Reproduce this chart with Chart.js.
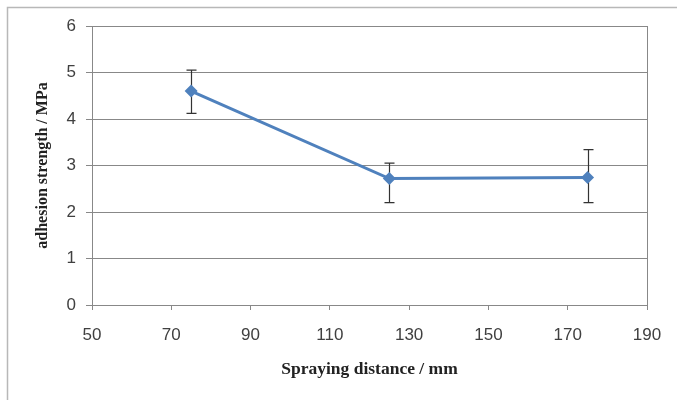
<!DOCTYPE html>
<html>
<head>
<meta charset="utf-8">
<script src="https://cdn.jsdelivr.net/npm/chart.js@4/dist/chart.umd.min.js"></script>
<style>
  body { margin: 0; background: #fff; }
  canvas { display: block; }
</style>
</head>
<body>
<canvas id="myChart" width="677" height="400"></canvas>
<script>
// spraying distance (mm) and adhesion strength (MPa)
let distances = [75, 125, 175];
let strength = [4.6, 2.72, 2.74];
let errLow = [4.12, 2.2, 2.2];
let errHigh = [5.05, 3.05, 3.34];

let xTicks = [50, 70, 90, 110, 130, 150, 170, 190];
let yTicks = [0, 1, 2, 3, 4, 5, 6];

let points = distances.map(function (d, i) {
    return {x: d, y: strength[i]};
});

let gridGray = "#888888";

// thin frame round the chart (only left and top show in the picture)
let framePlugin = {
    id: "frame",
    beforeDraw: function (chart) {
        let ctx = chart.ctx;
        ctx.save();
        ctx.fillStyle = "#fff";
        ctx.fillRect(0, 0, chart.width, chart.height);
        ctx.strokeStyle = "#b8b8b8";
        ctx.lineWidth = 1.5;
        ctx.beginPath();
        ctx.moveTo(7.5, chart.height);
        ctx.lineTo(7.5, 7.5);
        ctx.lineTo(chart.width, 7.5);
        ctx.stroke();
        ctx.restore();
    }
};

// error bars, drawn under the line and markers
let errorBars = {
    id: "errorBars",
    beforeDatasetsDraw: function (chart) {
        let ctx = chart.ctx;
        let xs = chart.scales.x;
        let ys = chart.scales.y;
        ctx.save();
        ctx.strokeStyle = "#333333";
        ctx.lineWidth = 1.2;
        for (let i = 0; i < distances.length; i++) {
            let px = Math.round(xs.getPixelForValue(distances[i])) + 0.5;
            let top = ys.getPixelForValue(errHigh[i]);
            let bot = ys.getPixelForValue(errLow[i]);
            ctx.beginPath();
            ctx.moveTo(px, top);
            ctx.lineTo(px, bot);
            ctx.moveTo(px - 5, top);
            ctx.lineTo(px + 5, top);
            ctx.moveTo(px - 5, bot);
            ctx.lineTo(px + 5, bot);
            ctx.stroke();
        }
        ctx.restore();
    }
};

new Chart("myChart", {
    type: "line",
    data: {
        datasets: [{
            data: points,
            borderColor: "#4F81BD",
            backgroundColor: "#4F81BD",
            borderWidth: 3,
            pointStyle: "rectRot",
            pointRadius: 6.5,
            pointBorderWidth: 0,
            tension: 0,
            fill: false
        }]
    },
    options: {
        responsive: false,
        animation: false,
        layout: {
            padding: {left: 29, right: 30, top: 26, bottom: 0}
        },
        plugins: {
            legend: {display: false},
            tooltip: {enabled: false}
        },
        scales: {
            x: {
                type: "linear",
                min: 50,
                max: 190,
                afterBuildTicks: function (axis) {
                    axis.ticks = xTicks.map(function (v) { return {value: v}; });
                },
                afterFit: function (axis) { axis.height = 95; },
                grid: {
                    drawOnChartArea: true,
                    color: function (c) {
                        return c.tick && c.tick.value === 190 ? gridGray : "rgba(0,0,0,0)";
                    },
                    tickColor: gridGray,
                    tickLength: 5
                },
                border: {color: gridGray},
                ticks: {
                    padding: 15,
                    color: "#404040",
                    font: {family: "Liberation Sans", size: 17}
                },
                title: {
                    display: true,
                    text: "Spraying distance / mm",
                    color: "#222",
                    padding: {top: 4, bottom: 20},
                    font: {family: "Liberation Serif", size: 17.5, weight: "bold"}
                }
            },
            y: {
                min: 0,
                max: 6,
                afterBuildTicks: function (axis) {
                    axis.ticks = yTicks.map(function (v) { return {value: v}; });
                },
                afterFit: function (axis) { axis.width = 63; },
                grid: {
                    color: gridGray,
                    tickColor: gridGray,
                    tickLength: 6
                },
                border: {color: gridGray},
                ticks: {
                    padding: 10,
                    color: "#404040",
                    font: {family: "Liberation Sans", size: 17}
                },
                title: {
                    display: true,
                    text: "adhesion strength / MPa",
                    color: "#222",
                    padding: {top: 4, bottom: 4},
                    font: {family: "Liberation Serif", size: 16, weight: "bold"}
                }
            }
        }
    },
    plugins: [framePlugin, errorBars]
});
</script>
</body>
</html>
